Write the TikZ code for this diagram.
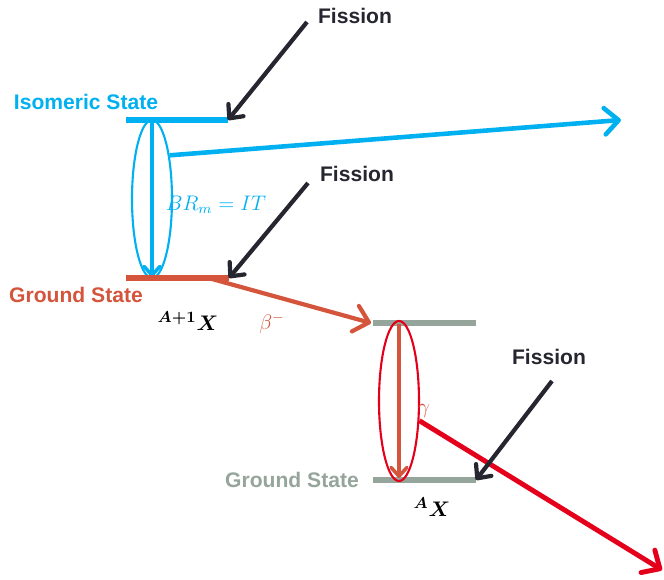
\documentclass[tikz,border=0pt]{standalone}
\usepackage{bm}
\usepackage{fontspec}
\setsansfont{Liberation Sans}
\usetikzlibrary{arrows.meta,shapes.geometric}

\definecolor{isoblue}{RGB}{0,176,240}
\definecolor{gsred}{RGB}{212,85,60}
\definecolor{gsgray}{RGB}{150,165,155}
\definecolor{gamred}{RGB}{228,0,27}
\definecolor{fisdark}{RGB}{38,38,48}

\tikzset{
  level/.style={line width=3.4pt},
  decay/.style={line width=2.6pt, -{Straight Barb[length=8pt,width=15pt,round]}},
  drop/.style={line width=2pt, -{Straight Barb[length=5pt,width=9pt,round]}},
  fission/.style={fisdark, line width=2.4pt, -{Straight Barb[length=6pt,width=11pt,round]}},
  fislabel/.style={font=\sffamily\bfseries\fontsize{12}{14}\selectfont, text=fisdark},
  statelabel/.style={font=\sffamily\bfseries\fontsize{12}{14}\selectfont},
  ring/.style={ellipse, draw, line width=1.2pt, inner sep=0pt, minimum width=0.8cm},
}

\begin{document}
\begin{tikzpicture}[x=0.02cm, y=-0.02cm]
\useasboundingbox (0,0) rectangle (664,580);

% Isomeric state
\coordinate (isoL) at (126,120);
\coordinate (isoR) at (228,120);
\draw[level, isoblue] (isoL) -- (isoR);
\node[statelabel, text=isoblue] (isolab) at (86,102) {Isomeric State};
\node[fislabel] (fis1) at (355,16) {Fission};
\coordinate (fis1s) at (307,22);
\draw[fission] (fis1s) -- (isoR);
\node[ring, isoblue, minimum height=3.16cm] (isoring) at (152,199) {};
\coordinate (isotop) at (152,120);
\coordinate (isobot) at (152,277);
\draw[drop, isoblue] (isotop) -- (isobot);
\coordinate (isoout) at (621,120);
\draw[decay, isoblue] (isoring.68) -- (isoout);
\node[text=isoblue, font=\fontsize{12}{14}\selectfont] (brlab) at (216,205) {$BR_m = IT$};

% Ground state A+1
\coordinate (gsL) at (126,278);
\coordinate (gsR) at (229,278);
\draw[level, gsred] (gsL) -- (gsR);
\node[statelabel, text=gsred] (gslab) at (76,295) {Ground State};
\node[fislabel] (fis2) at (357,174) {Fission};
\coordinate (fis2s) at (308,183);
\draw[fission] (fis2s) -- (gsR);
\node[font=\fontsize{13}{15}\selectfont] (nucbig) at (188,321) {${}^{\bm{A+1}}\bm{X}$};
\coordinate (betas) at (212,279);
\coordinate (betae) at (371,323);
\draw[decay, gsred, line width=2.4pt] (betas) -- (betae);
\node[text=gsred, font=\fontsize{12}{14}\selectfont] (betalab) at (272,323) {$\beta^{-}$};

% Daughter levels
\coordinate (upL) at (373,323);
\coordinate (upR) at (476,323);
\draw[level, gsgray, line width=3pt] (upL) -- (upR);
\coordinate (lowL) at (373,480);
\coordinate (lowR) at (476,480);
\draw[level, gsgray, line width=3pt] (lowL) -- (lowR);
\node[statelabel, text=gsgray] (gs2lab) at (292,480) {Ground State};
\node[font=\fontsize{13}{15}\selectfont] (nucsmall) at (432,507) {${}^{\bm{A}}\bm{X}$};
\node[ring, gamred, minimum height=3.2cm] (gamring) at (399,401) {};
\coordinate (gamtop) at (399,324);
\coordinate (gambot) at (399,478);
\draw[drop, gsred] (gamtop) -- (gambot);
\node[text=gsred, font=\fontsize{12}{14}\selectfont] (gamlab) at (424,411) {$\gamma$};
\coordinate (gamout) at (662,570);
\draw[decay, gamred, line width=2.8pt] (gamring.-44) -- (gamout);
\node[fislabel] (fis3) at (549,357) {Fission};
\coordinate (fis3s) at (552,381);
\draw[fission] (fis3s) -- (lowR);

\end{tikzpicture}
\end{document}
